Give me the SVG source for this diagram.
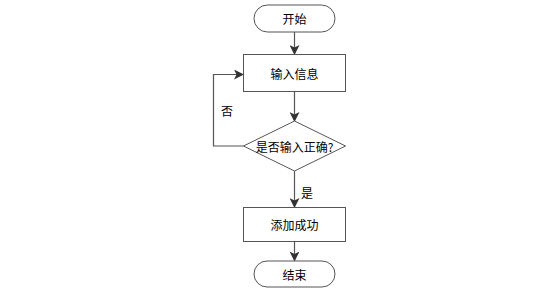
<svg xmlns="http://www.w3.org/2000/svg" width="538" height="294" viewBox="0 0 538 294">
<style>
.n{fill:#fff;stroke:#555;stroke-width:1}
.t{font-family:"Noto Sans CJK SC","Liberation Sans",sans-serif;font-size:12px;fill:#000;text-anchor:middle;dominant-baseline:central}
.c{fill:none;stroke:#555;stroke-width:1.2}
</style>
<defs>
<marker id="a" markerWidth="10" markerHeight="10" refX="9" refY="5" orient="auto" markerUnits="userSpaceOnUse">
<path d="M0,0 L10,5 L0,10 L2.5,5 Z" fill="#333"/>
</marker>
</defs>
<rect width="538" height="294" fill="#fff"/>
<g id="connectors">
<path class="c" d="M294.5,32 V54" marker-end="url(#a)"/>
<path class="c" d="M294.5,91.5 V121" marker-end="url(#a)"/>
<path class="c" d="M294.5,171 V207" marker-end="url(#a)"/>
<path class="c" d="M294.5,241.5 V260.5" marker-end="url(#a)"/>
<path class="c" d="M243.5,146 H213.5 V74.5 H243" marker-end="url(#a)"/>
<text class="t" x="227" y="110">否</text>
<text class="t" x="307" y="192">是</text>
</g>
<g id="start">
<rect class="n" x="254" y="5" width="81" height="27" rx="13.5"/>
<text class="t" x="294.5" y="18.5">开始</text>
</g>
<g id="input">
<rect class="n" x="243.5" y="54.5" width="102" height="37"/>
<text class="t" x="294.5" y="73">输入信息</text>
</g>
<g id="check">
<polygon class="n" points="294.5,121 345.5,146 294.5,171 243.5,146"/>
<text class="t" x="294.5" y="146">是否输入正确?</text>
</g>
<g id="add">
<rect class="n" x="243.5" y="207.5" width="102" height="34"/>
<text class="t" x="294.5" y="224.5">添加成功</text>
</g>
<g id="end">
<rect class="n" x="254" y="261" width="81" height="26" rx="13"/>
<text class="t" x="294.5" y="274">结束</text>
</g>
</svg>
